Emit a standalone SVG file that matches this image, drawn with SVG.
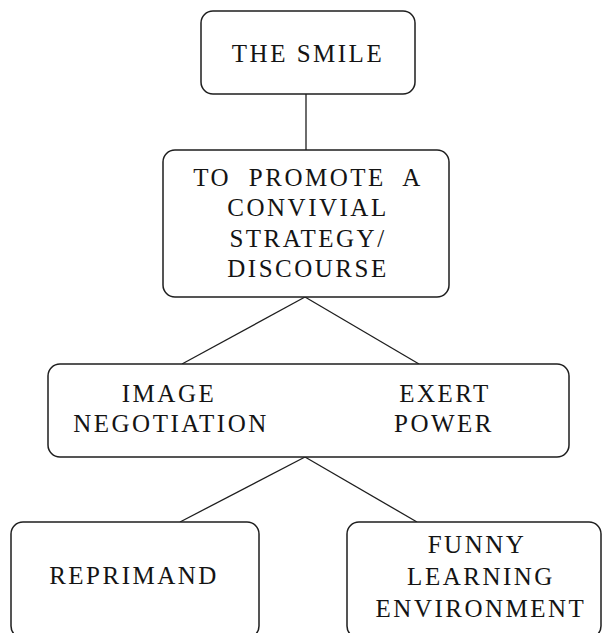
<svg xmlns="http://www.w3.org/2000/svg" width="602" height="633" viewBox="0 0 602 633">
  <style>
    .box { fill: #ffffff; stroke: #1e1e1e; stroke-width: 1.5; }
    .link { stroke: #1e1e1e; stroke-width: 1.3; fill: none; }
    .lbl { font-family: "Liberation Serif", "Times New Roman", serif; font-size: 25px; letter-spacing: 2.5px; fill: #141414; text-anchor: middle; }
    .wide { word-spacing: 9px; }
  </style>
  <rect width="602" height="633" fill="#ffffff"/>

  <g id="connectors">
    <line class="link" x1="306" y1="94" x2="306" y2="150"/>
    <line class="link" x1="305" y1="297" x2="182" y2="364"/>
    <line class="link" x1="305" y1="297" x2="419" y2="364"/>
    <line class="link" x1="305" y1="457" x2="180" y2="522"/>
    <line class="link" x1="305" y1="457" x2="417" y2="522"/>
  </g>

  <g id="node-smile">
    <rect class="box" x="201" y="11" width="214" height="83" rx="12"/>
    <text class="lbl" x="308" y="62">THE SMILE</text>
  </g>

  <g id="node-convivial">
    <rect class="box" x="163" y="150" width="286" height="147" rx="12"/>
    <text class="lbl wide" x="308" y="186">TO PROMOTE A</text>
    <text class="lbl" x="308" y="216">CONVIVIAL</text>
    <text class="lbl" x="308" y="247">STRATEGY/</text>
    <text class="lbl" x="308" y="277">DISCOURSE</text>
  </g>

  <g id="node-functions">
    <rect class="box" x="48" y="364" width="521" height="93" rx="12"/>
    <text class="lbl" x="169" y="402">IMAGE</text>
    <text class="lbl" x="171" y="432">NEGOTIATION</text>
    <text class="lbl" x="445" y="402">EXERT</text>
    <text class="lbl" x="444" y="432">POWER</text>
  </g>

  <g id="node-reprimand">
    <rect class="box" x="11" y="522" width="248" height="116" rx="12"/>
    <text class="lbl" x="134" y="584">REPRIMAND</text>
  </g>

  <g id="node-funny">
    <rect class="box" x="347" y="522" width="254" height="116" rx="12"/>
    <text class="lbl" x="477" y="553">FUNNY</text>
    <text class="lbl" x="481" y="585">LEARNING</text>
    <text class="lbl" x="481" y="617">ENVIRONMENT</text>
  </g>
</svg>
